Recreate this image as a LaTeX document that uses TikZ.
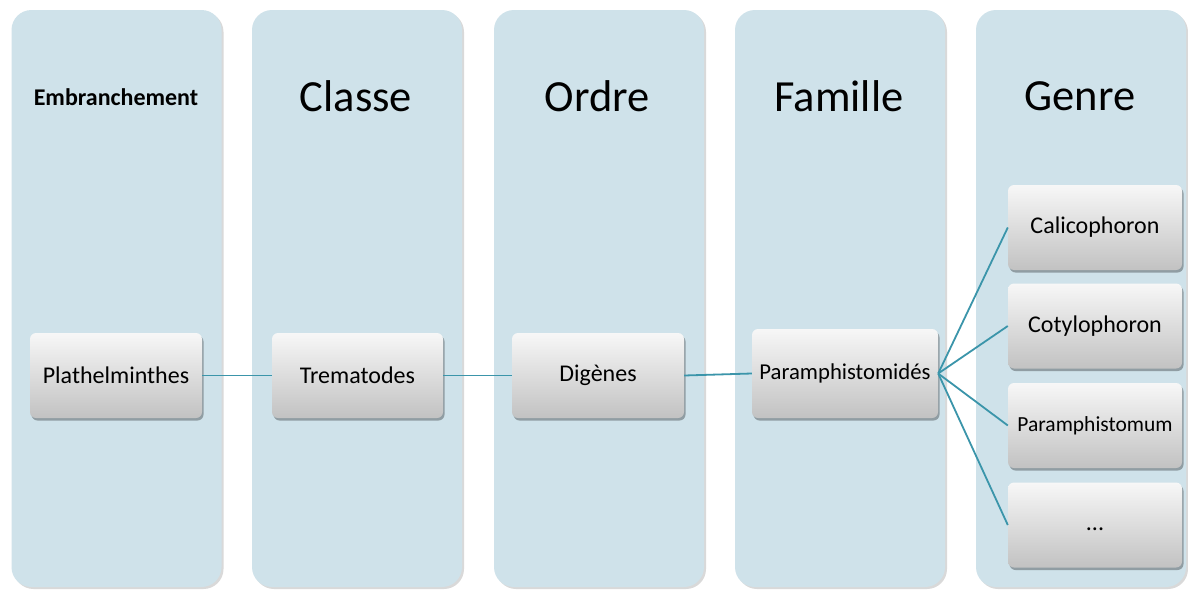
\documentclass[tikz,border=0pt]{standalone}
\usepackage{fontspec}
\setmainfont{Carlito}
\usetikzlibrary{shadows}
\definecolor{colfill}{HTML}{CFE2EA}
\definecolor{linkc}{HTML}{3B95AA}
\definecolor{boxtop}{HTML}{F7F7F7}
\definecolor{boxbot}{HTML}{C2C2C2}
\tikzset{
  column/.style={fill=colfill, rounded corners=20pt, minimum width=210pt, minimum height=577pt,
    drop shadow={shadow xshift=2pt, shadow yshift=-2pt, opacity=0.15, fill=black}},
  header/.style={font=\fontsize{44.5}{48}\selectfont, text=black},
  taxbox/.style={rounded corners=6pt, top color=boxtop, bottom color=boxbot, draw=none,
    minimum width=172pt, minimum height=85pt, font=\fontsize{24}{28}\selectfont, text=black,
    drop shadow={shadow xshift=1.5pt, shadow yshift=-2.5pt, opacity=0.3, fill=black}},
  link/.style={draw=linkc, line width=1.8pt},
}
\begin{document}
\begin{tikzpicture}[x=1pt,y=-1pt]
\useasboundingbox (0,0) rectangle (1188,589);
\fill[white] (0,0) rectangle (1188,589);
% columns
\node[column] (c1) at (116.5,298.5) {};
\node[column] (c2) at (357,298.5) {};
\node[column] (c3) at (599,298.5) {};
\node[column] (c4) at (840,298.5) {};
\node[column] (c5) at (1081,298.5) {};
% headers
\node[font=\bfseries\fontsize{24}{28}\selectfont] (h1) at (116,97) {Embranchement};
\node[header] (h2) at (356,96) {Classe};
\node[header] (h3) at (597,96) {Ordre};
\node[header] (h4) at (839,96) {Famille};
\node[header] (h5) at (1080,96) {Genre};
% boxes
\node[taxbox] (p) at (116,375.5) {Plathelminthes};
\node[taxbox, minimum width=171pt] (t) at (357.5,375.5) {Trematodes};
\node[taxbox] (d) at (598,375.5) {Digènes};
\node[taxbox, minimum width=186pt, minimum height=89pt, font=\fontsize{22.7}{26}\selectfont] (f) at (845,373.5) {Paramphistomidés};
\node[taxbox, minimum width=174pt] (g1) at (1095,227.5) {Calicophoron};
\node[taxbox, minimum width=174pt] (g2) at (1095,326) {Cotylophoron};
\node[taxbox, minimum width=174pt, font=\fontsize{21.5}{25}\selectfont] (g3) at (1095,425.5) {Paramphistomum};
\node[taxbox, minimum width=174pt] (g4) at (1095,525) {\raisebox{-5pt}[0pt][0pt]{...}};
% connectors
\draw[link] (p.east) -- (t.west);
\draw[link] (t.east) -- (d.west);
\draw[link] (d.east) -- (f.west);
\draw[link] (f.east) -- (g1.west);
\draw[link] (f.east) -- (g2.west);
\draw[link] (f.east) -- (g3.west);
\draw[link] (f.east) -- (g4.west);
\end{tikzpicture}
\end{document}
